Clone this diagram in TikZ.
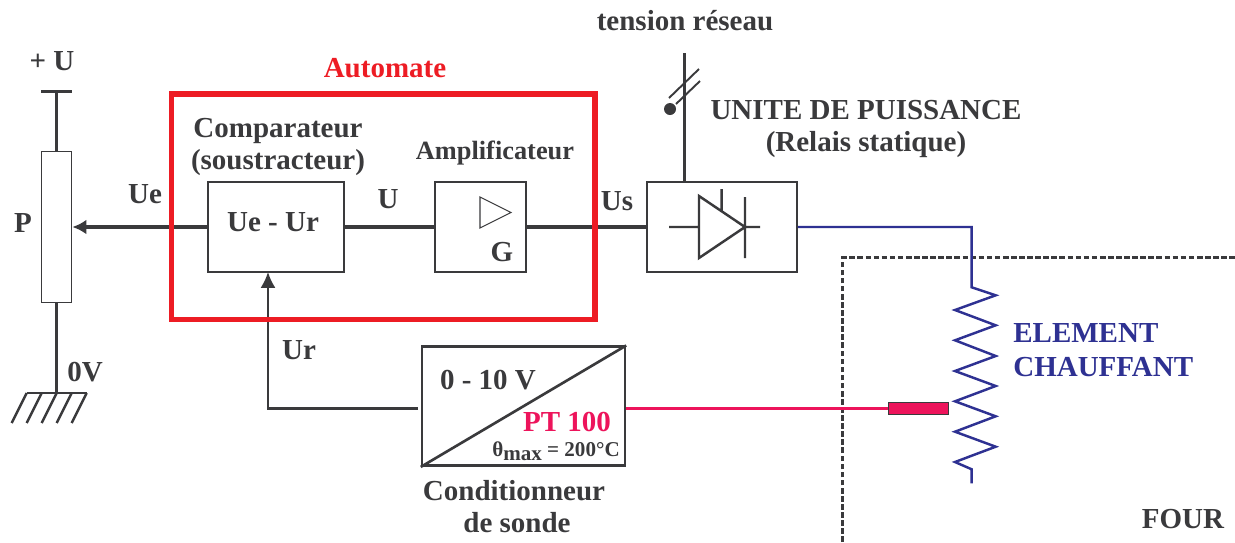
\documentclass[tikz,border=0pt]{standalone}
\usepackage{fontspec}
\usepackage{tikz}
\usetikzlibrary{arrows.meta}
\setmainfont{Liberation Serif}
\definecolor{sombre}{HTML}{3A3A3C}
\definecolor{rouge}{HTML}{ED1C24}
\definecolor{bleu}{HTML}{2E3192}
\definecolor{rose}{HTML}{ED145B}
\tikzset{
	txt/.style={font=\bfseries\fontsize{16.5}{19}\selectfont, text=sombre, inner sep=0pt},
	bloc/.style={draw=sombre, line width=1pt, fill=white, inner sep=0pt},
	fil/.style={draw=sombre, line width=1.9pt},
	filfin/.style={draw=sombre, line width=1.2pt},
}
\begin{document}
\begin{tikzpicture}[x=0.02cm, y=-0.02cm]
		\useasboundingbox (0,0) rectangle (1235,542);
		% four
		\draw[sombre, line width=1.6pt, dash pattern=on 3.2pt off 1.4pt] (842.7,542) -- (842.7,257.7) -- (1235,257.7);
		\node[txt] (four) at (1183,519) {FOUR};
		% blocs
		\node[bloc, minimum width=0.6cm, minimum height=3.02cm] (pot) at (56.5,227) {};
		\node[bloc, minimum width=2.72cm, minimum height=1.8cm] (comp) at (276,227) {};
		\node[bloc, minimum width=1.82cm, minimum height=1.8cm] (ampli) at (480.5,227) {};
		\node[bloc, minimum width=3cm, minimum height=1.8cm] (thy) at (722,227) {};
		\node[bloc, line width=1.4pt, minimum width=4.06cm, minimum height=2.38cm] (cond) at (523.5,406.2) {};
		\node[bloc, fill=rose, line width=1pt, minimum width=1.2cm, minimum height=0.24cm] (sonde) at (918.5,408.5) {};
		\draw[sombre, line width=1.5pt] (cond.south west) -- (cond.north east);
		% potentiometre
		\coordinate (plus) at (56.5,91.7);
		\coordinate (masse) at (56.5,393);
		\draw[fil] (plus) -- (pot.north);
		\draw[fil] (pot.south) -- (masse);
		\draw[fil] (41,91.7) -- (72,91.7);
		\draw[sombre, line width=1.4pt] (26.5,393) -- (87,393);
		\foreach \i in {0,1,2,3,4}
			\draw[sombre, line width=1.4pt] (26.7+15*\i,393) -- (11.7+15*\i,423);
		% liaisons
		\draw[fil, -{Latex[length=8pt,width=8.5pt]}] (comp.west) -- (pot.east);
		\draw[fil] (comp.east) -- (ampli.west);
		\draw[fil] (ampli.east) -- (thy.west);
		\coordinate (retour) at (268,272);
		\draw[filfin, -{Latex[length=9pt,width=8.5pt]}, shorten <=1.5pt] (cond.west |- sonde.west) -| (retour);
		\draw[rose, line width=1.5pt] (cond.east |- sonde.west) -- (sonde.west);
		% automate
		\node[draw=rouge, line width=3pt, inner sep=0pt, minimum width=8.47cm, minimum height=4.51cm] (auto) at (383.3,206.7) {};
		% ampli
		\draw[sombre, line width=0.6pt] (480,197) -- (511,212.5) -- (480,228) -- cycle;
		% thyristor
		\draw[sombre, line width=1.4pt] (669,227) -- (699,227) (699,196) -- (745,227) -- (699,258) -- cycle (745,197) -- (745,258) (745,227) -- (760,227) (721.7,189) -- (721.7,212);
		% reseau
		\coordinate (reseau) at (684.3,53);
		\draw[fil] (reseau) -- (reseau |- thy.north);
		\draw[sombre, line width=1.1pt] (669,98) -- (699,69) (676,104) -- (700,81);
		\fill[sombre] (670,109) circle (6);
		% chauffage
		\draw[bleu, line width=1.4pt] (thy.east) -- (971.7,227) -- (971.7,287.3) -- (995.7,295.3) -- (955,310) -- (995.7,325.3) -- (955,340.3) -- (995.7,356) -- (955,371) -- (995.7,386) -- (955,401.3) -- (995.7,416.3) -- (955,431.7) -- (995.7,446.7) -- (955,462) -- (971.7,469.3) -- (971.7,483.3);
		% textes
		\node[txt] (tension) at (685,21) {tension réseau};
		\node[txt] (plusu) at (52,61) {+ U};
		\node[txt, text=rouge] (titre) at (385,68) {Automate};
		\node[txt] (comparateur) at (278,131) {Comparateur};
		\node[txt] (soustracteur) at (278,163) {(soustracteur)};
		\node[txt, font=\bfseries\fontsize{15}{18}\selectfont] (amplificateur) at (495,153) {Amplificateur};
		\node[txt] (ue) at (145,194) {Ue};
		\node[txt] (u) at (388,199) {U};
		\node[txt] (us) at (617,201) {Us};
		\node[txt] (p) at (23,223) {P};
		\node[txt] (zero) at (85,372) {0V};
		\node[txt] (ur) at (299,350) {Ur};
		\node[txt] (diff) at (273,222) {Ue - Ur};
		\node[txt] (g) at (502,252) {G};
		\node[txt] (unite) at (866,110) {UNITE DE PUISSANCE};
		\node[txt] (relais) at (866,145) {(Relais statique)};
		\node[txt] (plage) at (488,380) {0 - 10 V};
		\node[txt, text=rose] (pt) at (567,422) {PT 100};
		\node[txt, font=\bfseries\fontsize{12}{14}\selectfont] (theta) at (556,451) {θ\raisebox{-2.5pt}{max} = 200°C};
		\node[txt] (condi) at (514,491) {Conditionneur};
		\node[txt] (desonde) at (517,523) {de sonde};
		\node[txt, text=bleu, anchor=west] (element) at (1013,333) {ELEMENT};
		\node[txt, text=bleu, anchor=west] (chauffant) at (1013,367) {CHAUFFANT};
\end{tikzpicture}
\end{document}
